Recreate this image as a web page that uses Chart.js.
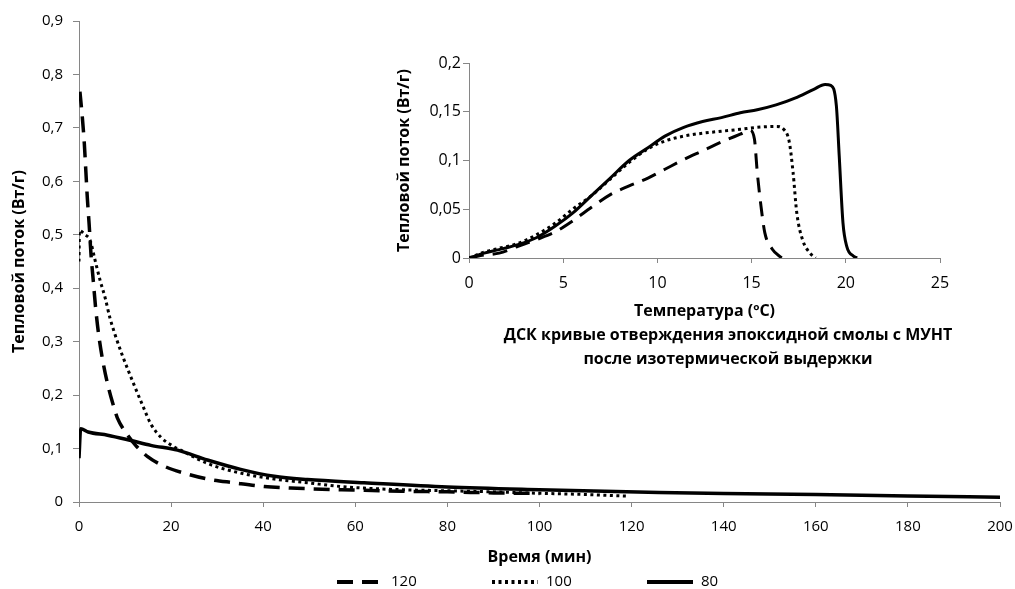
<!DOCTYPE html>
<html>
<head>
<meta charset="utf-8">
<script src="https://cdn.jsdelivr.net/npm/chart.js@4.4.1/dist/chart.umd.min.js"></script>
<style>
  html, body { margin: 0; padding: 0; background: #fff; overflow: hidden; }
  #wrap { position: relative; width: 1015px; height: 589px; }
  #inset { position: absolute; left: 380px; top: 30px; }
  #caption {
    position: absolute; left: 478px; top: 322px; width: 500px;
    text-align: center; font: bold 16px 'Open Sans', sans-serif;
    line-height: 24px; color: #000;
  }
</style>
</head>
<body>
<div id="wrap">
  <canvas id="main" width="1015" height="589"></canvas>
  <canvas id="inset" width="600" height="300"></canvas>
  <div id="caption">ДСК кривые отверждения эпоксидной смолы с МУНТ<br>после изотермической выдержки</div>
</div>
<script>
// -------- DATA: изотермы (время, мин / тепловой поток, Вт/г) --------
const seriesNames = ["120", "100", "80"];

const t120 = [0.2, 0.72, 1.16, 1.5, 1.8, 2.2, 2.6, 3.1, 3.6, 4.35, 5.3, 6.4, 7.7, 8.3, 10.9, 12.3, 14.9, 18.5, 22.8, 27.9, 33.7, 40.2, 46, 51, 57, 62, 70, 80, 90, 100];
const q120 = [0.768, 0.72, 0.67, 0.617, 0.57, 0.52, 0.464, 0.414, 0.364, 0.308, 0.258, 0.214, 0.174, 0.158, 0.121, 0.106, 0.085, 0.067, 0.054, 0.043, 0.036, 0.029, 0.026, 0.0245, 0.023, 0.022, 0.02, 0.019, 0.017, 0.016];

const t100 = [0, 0.1, 1.3, 2.4, 3.5, 4.6, 5.65, 6.7, 7.8, 9.3, 10.7, 12.2, 14, 15.6, 17.8, 20.7, 22.1, 27.9, 35.1, 42.4, 49.6, 56.9, 61.9, 70, 80, 90, 97, 110, 119];
const q100 = [0.45, 0.508, 0.5, 0.49, 0.452, 0.414, 0.383, 0.345, 0.314, 0.277, 0.246, 0.214, 0.177, 0.146, 0.121, 0.103, 0.097, 0.072, 0.054, 0.043, 0.036, 0.029, 0.026, 0.023, 0.021, 0.019, 0.017, 0.014, 0.011];

const t80 = [0, 0.36, 2, 6.2, 11.3, 15.6, 21.4, 27.9, 35.1, 42.4, 49.6, 61.9, 80, 100, 126, 140, 160, 180, 200];
const q80 = [0.082, 0.137, 0.131, 0.125, 0.115, 0.106, 0.097, 0.0785, 0.061, 0.048, 0.042, 0.036, 0.028, 0.023, 0.018, 0.016, 0.014, 0.011, 0.009];

// -------- DATA: ДСК после выдержки (температура / тепловой поток) --------
const T120 = [0, 0.8, 1.6, 2.6, 3.6, 4.6, 5.5, 6.5, 7.5, 8.5, 9.5, 10.4, 11.4, 12.4, 13.4, 14.4, 14.9, 15.15, 15.3, 15.5, 15.7, 16.1, 16.6];
const H120 = [0, 0.003, 0.005, 0.012, 0.019, 0.027, 0.038, 0.052, 0.065, 0.074, 0.082, 0.091, 0.101, 0.11, 0.119, 0.127, 0.131, 0.122, 0.088, 0.053, 0.026, 0.009, 0];

const T100 = [0, 0.8, 1.6, 2.6, 3.6, 4.6, 5.5, 6.5, 7.5, 8.5, 9.5, 10.4, 11.4, 12.4, 13.4, 14.4, 15.3, 16.3, 16.7, 17.0, 17.2, 17.4, 17.7, 18.1, 18.4];
const H100 = [0, 0.006, 0.01, 0.015, 0.024, 0.036, 0.05, 0.064, 0.081, 0.098, 0.112, 0.12, 0.125, 0.128, 0.13, 0.132, 0.134, 0.135, 0.132, 0.119, 0.088, 0.046, 0.019, 0.005, 0];

const T80 = [0, 0.8, 1.6, 2.6, 3.6, 4.6, 5.5, 6.5, 7.5, 8.5, 9.5, 10.4, 11.4, 12.4, 13.4, 14.4, 15.3, 16.3, 17.3, 18.3, 18.9, 19.2, 19.5, 19.65, 19.85, 20.05, 20.4, 20.6];
const H80 = [0, 0.005, 0.0086, 0.0137, 0.021, 0.033, 0.046, 0.064, 0.082, 0.1, 0.113, 0.125, 0.134, 0.14, 0.144, 0.149, 0.152, 0.157, 0.164, 0.173, 0.178, 0.177, 0.156, 0.105, 0.036, 0.012, 0.002, 0];

// -------- ОБЩЕЕ --------
const FONT = "'Open Sans', sans-serif";
const AXIS_GREY = "#868686";
const comma = v => (+v.toFixed(2)).toString().replace(".", ",");
const pts = (xs, ys) => xs.map((x, i) => ({ x, y: ys[i] }));

// стили линий: пунктир, точки, сплошная
const styles = [
  { borderDash: [16, 9], borderWidth: 3.5 },
  { borderDash: [3, 3.5], borderWidth: 3 },
  { borderDash: [], borderWidth: 3.5 }
];

function makeSet(label, xs, ys, st) {
  return {
    label, data: pts(xs, ys),
    borderColor: "#000", backgroundColor: "#000",
    borderWidth: st.borderWidth, borderDash: st.borderDash,
    pointRadius: 0, cubicInterpolationMode: "monotone", fill: false
  };
}

function axis(min, max, step, tickLen, pad, tickSize, title, titlePad, fit) {
  return {
    type: "linear", min, max,
    ticks: { stepSize: step, color: "#000", padding: pad, font: { family: FONT, size: tickSize }, callback: v => comma(v) },
    grid: { drawOnChartArea: false, color: AXIS_GREY, tickLength: tickLen },
    border: { color: AXIS_GREY, width: 1 },
    title: { display: true, text: title, color: "#000", font: { family: FONT, size: 16, weight: "bold" }, padding: titlePad },
    afterFit: fit
  };
}

// Легенда под осью: образец линии + подпись
const lineLegend = {
  id: "lineLegend",
  afterDraw(chart) {
    const ctx = chart.ctx;
    const y = 582, start = 337, step = 155, sample = 46;
    ctx.save();
    ctx.font = "15px " + FONT;
    ctx.fillStyle = "#000";
    ctx.textBaseline = "middle";
    chart.data.datasets.forEach((ds, i) => {
      const x = start + i * step;
      ctx.beginPath();
      ctx.setLineDash(ds.borderDash);
      ctx.lineWidth = 4;
      ctx.strokeStyle = ds.borderColor;
      ctx.moveTo(x, y);
      ctx.lineTo(x + sample, y);
      ctx.stroke();
      ctx.fillText(ds.label, x + sample + 8, y);
    });
    ctx.restore();
  }
};

// -------- ОСНОВНОЙ ГРАФИК --------
new Chart(document.getElementById("main"), {
  type: "line",
  data: {
    datasets: [
      makeSet(seriesNames[0], t120, q120, styles[0]),
      makeSet(seriesNames[1], t100, q100, styles[1]),
      makeSet(seriesNames[2], t80, q80, styles[2])
    ]
  },
  options: {
    responsive: false, animation: false,
    layout: { padding: { left: 0, right: 15, top: 21, bottom: 0 } },
    plugins: { legend: { display: false }, tooltip: { enabled: false } },
    scales: {
      // подпись «200» сама держит поле справа, поэтому его обнуляем
      x: axis(0, 200, 20, 5, 11, 15, "Время (мин)", { top: 0, bottom: 22 }, s => { s.height = 87; s.paddingRight = 0; }),
      y: axis(0, 0.9, 0.1, 6, 10, 15, "Тепловой поток (Вт/г)", { top: 10, bottom: 0 }, s => { s.width = 79; })
    }
  },
  plugins: [lineLegend]
});

// -------- ВРЕЗКА: ДСК --------
new Chart(document.getElementById("inset"), {
  type: "line",
  data: {
    datasets: [
      makeSet(seriesNames[0], T120, H120, { borderDash: [15, 9], borderWidth: 3 }),
      makeSet(seriesNames[1], T100, H100, { borderDash: [3, 3.5], borderWidth: 3 }),
      makeSet(seriesNames[2], T80, H80, { borderDash: [], borderWidth: 3 })
    ]
  },
  options: {
    responsive: false, animation: false,
    layout: { padding: { left: 0, right: 40, top: 33, bottom: 0 } },
    plugins: { legend: { display: false }, tooltip: { enabled: false } },
    scales: {
      x: axis(0, 25, 5, 5, 11, 16, "Температура (ºC)", { top: 0, bottom: 9 }, s => { s.height = 72; s.paddingRight = 0; }),
      y: axis(0, 0.2, 0.05, 6, 2, 16, "Тепловой поток (Вт/г)", { top: 15, bottom: 0 }, s => { s.width = 89; })
    }
  }
});
</script>
</body>
</html>
